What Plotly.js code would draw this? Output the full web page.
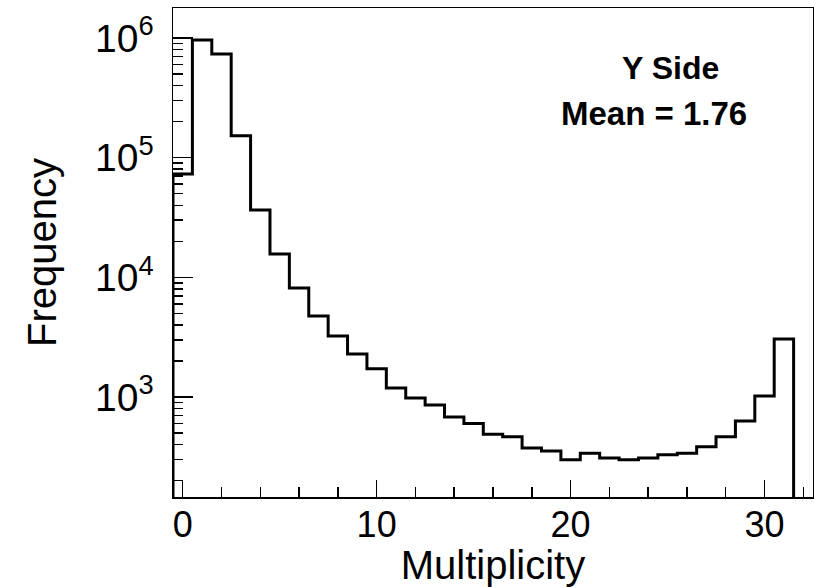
<!DOCTYPE html>
<html>
<head>
<meta charset="utf-8">
<script src="https://cdn.plot.ly/plotly-3.0.1.min.js"></script>
<style>html,body{margin:0;padding:0;background:#fff;}#chart{width:814px;height:587px;}</style>
</head>
<body>
<div id="chart"></div>
<script>
// Multiplicity bins (integer centres) and their counts
const multiplicity = [0,1,2,3,4,5,6,7,8,9,10,11,12,13,14,15,16,17,18,19,20,21,22,23,24,25,26,27,28,29,30,31,32];
const frequency = [73000,960000,735000,152000,36600,15700,8150,4760,3240,2290,1720,1190,980,860,680,600,490,465,375,355,300,340,310,300,310,330,340,385,465,630,1020,3050,0];
const yTickVals = [1e3,1e4,1e5,1e6];
const yTickText = ['10<sup>3</sup>','10<sup>4</sup>','10<sup>5</sup>','10<sup>6</sup>'];
const xTickVals = [0,10,20,30];
const labelSide = 'Y Side';
const labelMean = 'Mean = 1.76';

// Build histogram outline (step) from the bin arrays
const binWidth = 1;
const floorVal = 1; // empty bins drawn down below the axis
const stepX = [multiplicity[0]-binWidth/2];
const stepY = [floorVal];
multiplicity.forEach((m,i)=>{ stepX.push(m-binWidth/2); stepY.push(Math.max(frequency[i],floorVal)); });
stepX.push(multiplicity[multiplicity.length-1]+binWidth/2);
stepY.push(Math.max(frequency[frequency.length-1],floorVal));

// minor log ticks 2..9 x 10^n
const minorY = [];
for (let e=2;e<=6;e++){ for (let d=2; d<=9; d++){ minorY.push(d*Math.pow(10,e)); } }

const font = 'Liberation Sans, Arial, Helvetica, sans-serif';

const trace = {
  type:'scatter', mode:'lines', x: stepX, y: stepY,
  line:{shape:'hv', color:'#000', width:3},
  hoverinfo:'skip', showlegend:false
};

const layout = {
  width:814, height:587,
  margin:{l:173, r:1, t:8, b:90, pad:0},
  paper_bgcolor:'#fff', plot_bgcolor:'#fff',
  font:{family:font, color:'#000'},
  showlegend:false,
  xaxis:{
    range:[-0.5,32.5], showgrid:false, zeroline:false,
    showline:true, mirror:true, linecolor:'#000', linewidth:1.5,
    tickmode:'array', tickvals:xTickVals,
    ticks:'inside', ticklen:17, tickwidth:1.5, tickcolor:'#000',
    minor:{tickmode:'linear', tick0:0, dtick:2, ticks:'inside', ticklen:10, tickwidth:1.5, tickcolor:'#000', showgrid:false},
    tickfont:{family:font, size:36, color:'#000'},
    ticklabelstandoff:-5,
    title:{text:'Multiplicity', font:{family:font, size:40, color:'#000'}, standoff:0}
  },
  yaxis:{
    type:'log', range:[2.165,6.25], showgrid:false, zeroline:false,
    showline:true, mirror:true, linecolor:'#000', linewidth:1.5,
    tickmode:'array', tickvals:yTickVals, ticktext:yTickText,
    ticks:'inside', ticklen:20, tickwidth:1.5, tickcolor:'#000',
    minor:{tickmode:'array', tickvals:minorY, ticks:'inside', ticklen:10, tickwidth:1.5, tickcolor:'#000', showgrid:false},
    tickfont:{family:font, size:39, color:'#000'},
    ticklabelstandoff:10,
    title:{text:'Frequency', font:{family:font, size:40, color:'#000'}, standoff:26}
  },
  annotations:[
    {xref:'paper', yref:'paper', x:0.777, y:0.877, xanchor:'center', yanchor:'middle', showarrow:false,
     text:'<b>'+labelSide+'</b>', font:{family:font, size:32, color:'#000'}},
    {xref:'paper', yref:'paper', x:0.752, y:0.785, xanchor:'center', yanchor:'middle', showarrow:false,
     text:'<b>'+labelMean+'</b>', font:{family:font, size:33, color:'#000'}}
  ]
};

Plotly.newPlot('chart', [trace], layout, {displayModeBar:false, staticPlot:true});
</script>
</body>
</html>
